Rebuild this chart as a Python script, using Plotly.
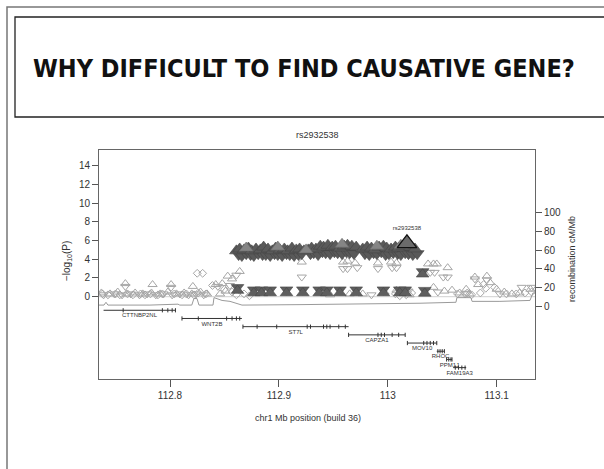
import plotly.graph_objects as go

# ---------------- data ----------------
slide_title = "WHY DIFFICULT TO FIND CAUSATIVE GENE?"
plot_title = "rs2932538"
lead_snp = "rs2932538"
lead_x = [113.0176]
lead_p = [5.7]

# high-LD cluster (dark)
cl_up_x = [112.861, 112.864, 112.868, 112.872, 112.875, 112.879, 112.883, 112.886, 112.890, 112.894,
           112.897, 112.901, 112.905, 112.908, 112.912, 112.916, 112.919, 112.923,
           112.927, 112.930, 112.934, 112.938, 112.941, 112.945, 112.949, 112.952, 112.956, 112.960,
           112.963, 112.967, 112.971,
           112.977, 112.981, 112.985, 112.988, 112.992, 112.996, 112.999, 113.003, 113.007, 113.010,
           113.014, 113.021, 113.025]
cl_up_p = [4.9, 5.1, 5.0, 5.2, 4.9, 5.1, 5.0, 5.3, 5.1, 4.9, 5.2, 5.0, 5.1, 4.9, 5.2, 5.0, 5.1, 4.9,
           5.0, 5.2, 5.1, 5.4, 5.3, 5.5, 5.3, 5.4, 5.2, 5.4, 5.5, 5.4, 5.3,
           5.1, 5.3, 5.2, 5.0, 5.3, 5.4, 5.2, 5.1, 5.3, 5.2, 5.4, 5.3, 5.1]
cl_dn_x = [112.863, 112.866, 112.870, 112.874, 112.877, 112.881, 112.885, 112.888, 112.892, 112.896,
           112.899, 112.903, 112.907, 112.910, 112.914, 112.918, 112.921,
           112.929, 112.932, 112.936, 112.940, 112.943, 112.947, 112.951, 112.954, 112.958, 112.962,
           112.965, 112.969,
           112.979, 112.983, 112.987, 112.990, 112.994, 112.998, 113.001, 113.005, 113.009, 113.012,
           113.016, 113.019, 113.023, 113.027]
cl_dn_p = [4.5, 4.4, 4.6, 4.5, 4.4, 4.6, 4.5, 4.5, 4.4, 4.6, 4.5, 4.4, 4.6, 4.5, 4.4, 4.5, 4.6,
           4.6, 4.7, 4.5, 4.8, 4.7, 4.6, 4.8, 4.7, 4.6, 4.8, 4.7, 4.6,
           4.6, 4.5, 4.7, 4.6, 4.8, 4.5, 4.6, 4.7, 4.6, 4.5, 4.7, 4.6, 4.5, 4.6]
mid_up_x = [112.870, 112.899, 112.925, 112.958, 112.990, 113.012]
mid_up_p = [5.2, 5.3, 5.0, 5.6, 5.4, 5.5]

# dark "hourglass" pairs near the baseline
hg_x = [112.862, 112.877, 112.884, 112.892, 112.907, 112.922, 112.937, 112.944, 112.956, 112.971,
        112.996, 113.011, 113.016, 113.032, 113.034]
hg_dn_p = [1.0, 0.75, 0.75, 0.75, 0.75, 0.75, 0.75, 0.75, 0.75, 0.75, 0.75, 0.75, 0.75, 2.7, 0.7]
hg_up_p = [0.65, 0.4, 0.4, 0.4, 0.4, 0.4, 0.4, 0.4, 0.4, 0.4, 0.4, 0.4, 0.4, 2.4, 0.35]

# low-LD SNPs (light, open)
lo_up_x = [112.737, 112.745, 112.752, 112.760, 112.768, 112.775, 112.783, 112.791, 112.798, 112.806,
           112.813, 112.820, 112.828, 112.834,
           112.759, 112.784, 112.801, 112.821, 112.842, 112.848, 112.853, 112.864, 112.857, 112.846,
           112.851,
           112.921, 112.959, 112.963, 112.970, 112.991, 113.003, 113.008, 113.037, 113.042, 113.045,
           113.055,
           113.080, 113.091, 113.083, 113.094, 113.100, 113.107, 113.114, 113.121, 113.131, 113.066,
           113.059, 113.042, 113.052, 113.072, 113.075, 112.997, 113.008, 113.016, 113.020, 112.977,
           112.965, 112.947]
lo_up_p = [0.4, 0.3, 0.5, 0.3, 0.4, 0.3, 0.4, 0.3, 0.5, 0.3, 0.4, 0.3, 0.5, 0.3,
           1.4, 1.3, 1.3, 1.1, 1.3, 1.4, 2.2, 2.7, 1.9, 0.3, 0.6,
           3.7, 3.7, 3.8, 3.6, 3.6, 3.7, 3.6, 3.5, 3.5, 3.5, 3.1,
           2.1, 2.2, 1.3, 1.5, 0.8, 0.5, 0.3, 0.4, 0.8, 0.4, 0.7, 1.0, 0.6, 0.8, 0.3, 0.5, 0.7, 0.4,
           0.2, 0.3, 0.3, 0.2]
lo_dn_x = [112.739, 112.749, 112.756, 112.764, 112.772, 112.779, 112.787, 112.794, 112.802, 112.809,
           112.817, 112.824, 112.831,
           112.759, 112.801, 112.844, 112.855, 112.861, 112.921, 112.959, 112.963, 112.972, 112.991,
           113.004, 113.008, 113.039, 113.043, 113.051, 113.055, 113.080, 113.091, 113.123, 113.132,
           113.103, 113.071, 112.985, 113.019, 113.046]
lo_dn_p = [0.2, 0.3, 0.2, 0.3, 0.2, 0.3, 0.2, 0.3, 0.2, 0.3, 0.2, 0.3, 0.2,
           1.1, 1.0, 1.1, 1.2, 2.3, 2.1, 3.0, 3.0, 3.1, 3.0, 3.1, 3.1, 2.6, 2.6, 2.1, 2.1, 1.9, 1.8,
           1.0, 1.0, 0.3, 0.3, 0.2, 0.6, 0.5]
lo_dm_x = [112.738, 112.743, 112.750, 112.754, 112.761, 112.766, 112.773, 112.777, 112.782, 112.789,
           112.793, 112.804, 112.811, 112.815, 112.822, 112.826, 112.833, 112.825, 112.830, 112.839,
           112.850, 112.857, 112.861, 112.868, 112.873,
           113.007, 113.011, 113.017, 113.022, 113.064, 113.073, 113.077, 113.085, 113.090, 113.098,
           113.109, 113.118, 113.126, 113.132, 113.088]
lo_dm_p = [0.3, 0.2, 0.3, 0.2, 0.3, 0.2, 0.3, 0.2, 0.3, 0.2, 0.3, 0.3, 0.2, 0.3, 0.2, 0.4, 0.3,
           2.5, 2.5, 1.2, 0.8, 0.5, 0.2, 0.3, 0.1,
           0.3, 0.1, 0.2, 0.4, 0.3, 0.4, 0.2, 0.4, 0.9, 1.0, 0.3, 0.3, 0.4, 0.5, 1.3]

# recombination rate (cM/Mb)
rec_x = [112.7348, 112.7394, 112.7412, 112.7430, 112.7816, 112.8073, 112.8090, 112.8200, 112.8220,
         112.8248, 112.8266, 112.8395, 112.8404, 112.8478, 112.8551, 112.8606, 112.8661, 112.9194,
         112.9928, 113.0296, 113.0626, 113.0635, 113.0764, 113.0774, 113.1030, 113.1306, 113.1333,
         113.1352]
rec_r = [1, 1, 4, 1, 1, 2, 1, 1, 8, 8, 1, 1, 9, 6, 5, 3, 1, 1.5, 2, 3, 4, 9, 9, 5, 5, 6, 14, 14]

# genes
gene_names = ["CTTNBP2NL", "WNT2B", "ST7L", "CAPZA1", "MOV10", "RHOC", "PPM1J", "FAM19A3"]
gene_start = [112.739, 112.811, 112.867, 112.964, 113.018, 113.045, 113.054, 113.060]
gene_end = [112.805, 112.866, 112.964, 113.016, 113.045, 113.052, 113.059, 113.072]
gene_row = [0, 1, 2, 3, 4, 5, 6, 7]
exon_x = [[112.757, 112.793, 112.798, 112.802, 112.805],
          [112.811, 112.826, 112.852, 112.857, 112.861, 112.864],
          [112.867, 112.880, 112.898, 112.926, 112.929, 112.944, 112.941, 112.947, 112.955, 112.961],
          [112.964, 112.991, 112.994, 112.997, 113.004, 113.010, 113.016],
          [113.018, 113.033, 113.036, 113.039, 113.042, 113.045],
          [113.046, 113.048, 113.050, 113.052],
          [113.054, 113.056, 113.058, 113.059],
          [113.062, 113.065, 113.068, 113.071]]

x_ticks = [112.8, 112.9, 113.0, 113.1]
x_tick_labels = ["112.8", "112.9", "113", "113.1"]
y_ticks = [0, 2, 4, 6, 8, 10, 12, 14]
y2_ticks = [0, 20, 40, 60, 80, 100]

# ---------------- layout helpers ----------------
W, H = 604, 469
L, R, T, B = 99, 535, 150, 379


def px(xp):
    return (xp - L) / (R - L)


def py(yp):
    return (B - yp) / (B - T)


def row_y(r):
    return -1.45 - 0.875 * r


TXT = "#333333"
FONT = "Liberation Sans, Arial, sans-serif"
LIGHT = "#a6a6a6"

fig = go.Figure()

# recombination line
fig.add_trace(go.Scatter(x=rec_x, y=rec_r, yaxis="y2", mode="lines",
                         line=dict(color="#9a9a9a", width=1), hoverinfo="skip"))
# faint baseline at -log10(P)=0
fig.add_trace(go.Scatter(x=[112.7348, 113.1352], y=[0, 0], mode="lines",
                         line=dict(color="#d0d0d0", width=1), hoverinfo="skip"))

# light SNPs
fig.add_trace(go.Scatter(x=lo_dm_x, y=lo_dm_p, mode="markers",
                         marker=dict(symbol="diamond-open", size=6, color=LIGHT, line=dict(width=1))))
fig.add_trace(go.Scatter(x=lo_up_x, y=lo_up_p, mode="markers",
                         marker=dict(symbol="triangle-up-open", size=8, color=LIGHT, line=dict(width=1))))
fig.add_trace(go.Scatter(x=lo_dn_x, y=lo_dn_p, mode="markers",
                         marker=dict(symbol="triangle-down-open", size=8, color=LIGHT, line=dict(width=1))))

# hourglass dark pairs
fig.add_trace(go.Scatter(x=hg_x, y=hg_dn_p, mode="markers",
                         marker=dict(symbol="triangle-down", size=11, color="#5e5e5e",
                                     line=dict(color="#444444", width=0.6))))
fig.add_trace(go.Scatter(x=hg_x, y=hg_up_p, mode="markers",
                         marker=dict(symbol="triangle-up", size=11, color="#5e5e5e",
                                     line=dict(color="#444444", width=0.6))))

# dark cluster
fig.add_trace(go.Scatter(x=cl_dn_x, y=cl_dn_p, mode="markers",
                         marker=dict(symbol="triangle-down", size=12, color="#595959",
                                     line=dict(color="#444444", width=0.6))))
fig.add_trace(go.Scatter(x=cl_up_x, y=cl_up_p, mode="markers",
                         marker=dict(symbol="triangle-up", size=12, color="#5a5a5a",
                                     line=dict(color="#444444", width=0.6))))
fig.add_trace(go.Scatter(x=mid_up_x, y=mid_up_p, mode="markers",
                         marker=dict(symbol="triangle-up", size=12, color="#858585",
                                     line=dict(color="#6a6a6a", width=0.6))))

# lead SNP
fig.add_trace(go.Scatter(x=lead_x, y=lead_p, mode="markers+text", text=[lead_snp],
                         textposition="top center", textfont=dict(size=6, color=TXT, family=FONT),
                         marker=dict(symbol="triangle-up", size=17, color="#6b6b6b",
                                     line=dict(color="#111111", width=1.2))))

# genes
for name, s, e, r, ex in zip(gene_names, gene_start, gene_end, gene_row, exon_x):
    y = row_y(r)
    fig.add_trace(go.Scatter(x=[s, e], y=[y, y], mode="lines",
                             line=dict(color="#333333", width=1), hoverinfo="skip"))
    fig.add_trace(go.Scatter(x=ex, y=[y] * len(ex), mode="markers",
                             marker=dict(symbol="line-ns", size=3, color="#333333",
                                         line=dict(color="#333333", width=1)),
                             hoverinfo="skip"))
fig.add_trace(go.Scatter(x=[(s + e) / 2 for s, e in zip(gene_start, gene_end)],
                         y=[row_y(r) - 0.6 for r in gene_row], mode="text", text=gene_names,
                         textposition="middle center",
                         textfont=dict(size=6, color=TXT, family=FONT), hoverinfo="skip"))

axis_common = dict(showgrid=False, zeroline=False, ticks="outside", tickcolor="#555555",
                   tickfont=dict(size=10, color=TXT, family=FONT))

fig.update_layout(
    width=W, height=H, autosize=False,
    margin=dict(l=L, r=W - R, t=T, b=H - B, pad=0),
    paper_bgcolor="white", plot_bgcolor="white", showlegend=False,
    xaxis=dict(range=[112.7348, 113.1352], tickvals=x_ticks, ticktext=x_tick_labels,
               ticklen=7, showline=True, mirror=True, linecolor="#666666", linewidth=1,
               **axis_common),
    yaxis=dict(range=[-8.79, 15.67], tickvals=y_ticks, ticklen=6, showline=True, mirror=True,
               linecolor="#666666", linewidth=1, **axis_common),
    yaxis2=dict(range=[-78.2, 167.2], tickvals=y2_ticks, ticklen=6, overlaying="y", side="right",
                showline=False, **axis_common),
    shapes=[
        dict(type="path", xref="paper", yref="paper",
             path=f"M {px(7)} {py(475)} L {px(7)} {py(7)} L {px(612)} {py(7)}",
             line=dict(color="#777777", width=1.5)),
        dict(type="rect", xref="paper", yref="paper", x0=px(15), x1=px(612), y0=py(117), y1=py(17),
             line=dict(color="#222222", width=1.3)),
    ],
    annotations=[
        dict(text=f"<b>{slide_title}</b>", xref="paper", yref="paper", x=px(31), y=py(68),
             xanchor="left", yanchor="middle", showarrow=False,
             font=dict(size=25, color="#111111",
                       family="Liberation Sans Narrow, DejaVu Sans Condensed, Arial Narrow, sans-serif")),
        dict(text=plot_title, xref="paper", yref="paper", x=px(317), y=py(135), xanchor="center",
             yanchor="middle", showarrow=False, font=dict(size=9, color=TXT, family=FONT)),
        dict(text="chr1 Mb position (build 36)", xref="paper", yref="paper", x=px(308), y=py(418),
             xanchor="center", yanchor="middle", showarrow=False,
             font=dict(size=9, color=TXT, family=FONT)),
        dict(text="\u2212log<sub>10</sub>(P)", xref="paper", yref="paper", x=px(67), y=py(261),
             xanchor="center", yanchor="middle", textangle=-90, showarrow=False,
             font=dict(size=10, color=TXT, family=FONT)),
        dict(text="recombination cM/Mb", xref="paper", yref="paper", x=px(572), y=py(259),
             xanchor="center", yanchor="middle", textangle=-90, showarrow=False,
             font=dict(size=9, color=TXT, family=FONT)),
    ],
)

fig.write_html("out.html", config={"displayModeBar": False},
               post_script="document.body.style.margin='0';")
